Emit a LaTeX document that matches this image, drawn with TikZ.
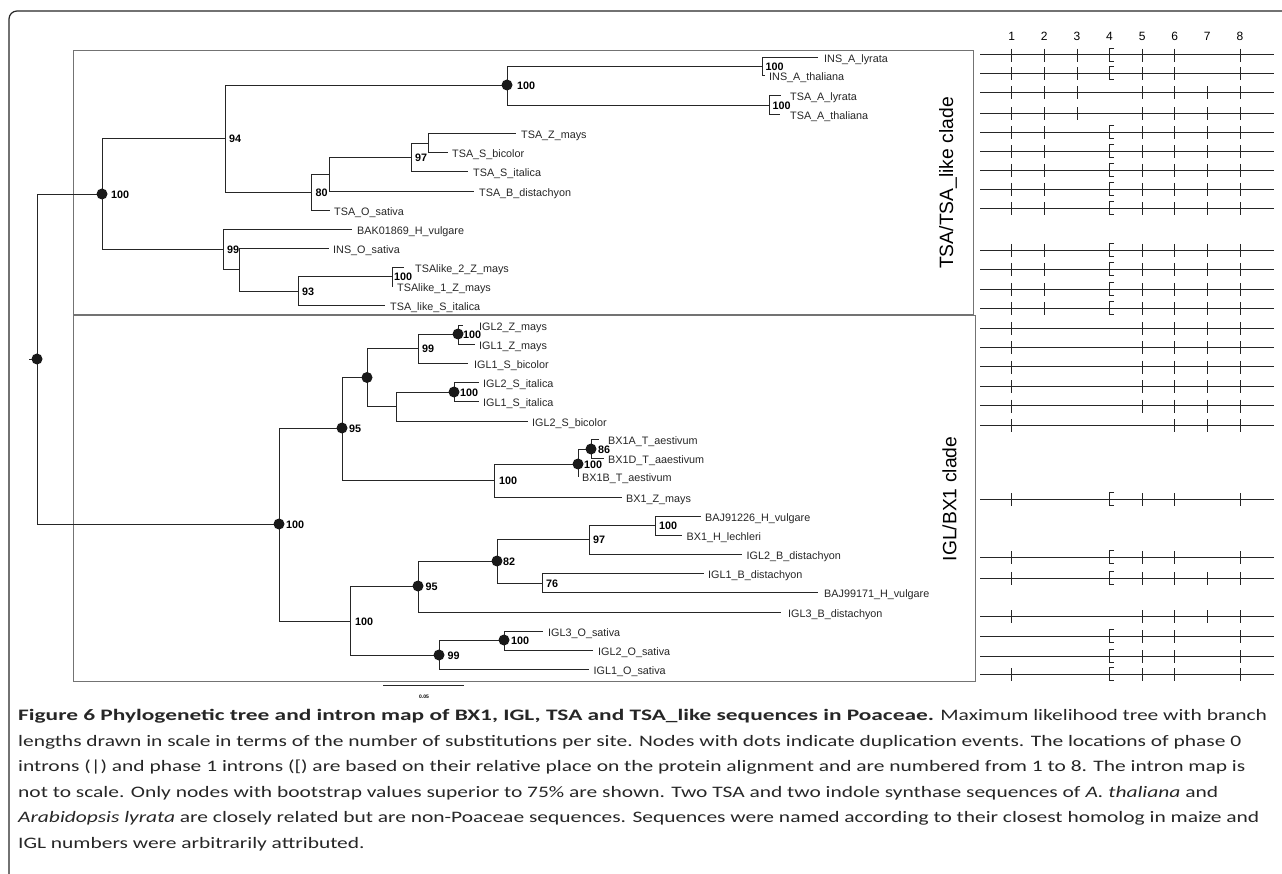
\documentclass[tikz,border=0pt]{standalone}
\usepackage{fontspec}
\setmainfont{Liberation Sans}
\newfontfamily\capfont[FakeStretch=1.34,BoldFeatures={FakeStretch=1.46}]{Carlito}
\usetikzlibrary{positioning}

\begin{document}
\begin{tikzpicture}[x=1pt,y=-1pt,
    branch/.style={draw=black!85,line width=0.9pt},
    taxon/.style={inner sep=0pt,text height=7.8pt,text depth=0pt,
      font=\fontsize{10.8}{12}\selectfont,text=black!85,yshift=-1.5pt},
    boot/.style={inner sep=0pt,text height=7.8pt,text depth=0pt,
      font=\bfseries\fontsize{10.8}{12}\selectfont,yshift=-1pt},
    clade/.style={rotate=90,inner sep=0pt,font=\fontsize{19.3}{20}\selectfont},
    cladebox/.style={draw=black!55,line width=0.9pt},
    intron/.style={draw=black!85,line width=0.8pt},
    colnum/.style={inner sep=0pt,font=\fontsize{12}{14}\selectfont},
    caption/.style={inner sep=0pt,align=left,text=black!85,
      font=\capfont\fontsize{16}{25.6}\selectfont},
    frame/.style={draw=black!85,line width=1.2pt,rounded corners=8pt}]
    \useasboundingbox (0,0) rectangle (1282,874);

    % FRAME AND CLADE BOXES
    \coordinate (FRAME_BL) at (9,874);
    \coordinate (FRAME_TL) at (9,11);
    \coordinate (FRAME_TR) at (1282,11);
    \draw[frame] (FRAME_BL) -- (FRAME_TL) -- (FRAME_TR);
    \draw[cladebox] (73,50) rectangle (973,314);
    \draw[cladebox] (73,315) rectangle (975,681);
    \node[clade] (TSA_CLADE) at (948,183) {TSA/TSA\_like clade};
    \node[clade] (IGL_CLADE) at (949.5,499) {IGL/BX1 clade};

    % INNER NODES
    \coordinate (ROOT_STUB) at (29,359);
    \coordinate (ROOT) at (37,359);
    \coordinate (NODE_A) at (102,194);
    \coordinate (NODE_B) at (225,138);
    \coordinate (NODE_C) at (507,85);
    \coordinate (NODE_D) at (762,66);
    \coordinate (NODE_E) at (769,105);
    \coordinate (NODE_F) at (311,192);
    \coordinate (NODE_G) at (329,174);
    \coordinate (NODE_H) at (411,157);
    \coordinate (NODE_I) at (428,143);
    \coordinate (NODE_J) at (223,249);
    \coordinate (NODE_K) at (239,269);
    \coordinate (NODE_L) at (298,291);
    \coordinate (NODE_M) at (392,276);
    \coordinate (NODE_N) at (279,524);
    \coordinate (NODE_O) at (342,428);
    \coordinate (NODE_P) at (367,377.5);
    \coordinate (NODE_Q) at (418,348);
    \coordinate (NODE_R) at (458,334);
    \coordinate (NODE_S) at (396,406);
    \coordinate (NODE_T) at (454,392);
    \coordinate (NODE_U) at (494,480);
    \coordinate (NODE_V) at (578,464);
    \coordinate (NODE_W) at (591,449);
    \coordinate (NODE_X) at (350,621);
    \coordinate (NODE_Y) at (418,586);
    \coordinate (NODE_Z) at (497,561);
    \coordinate (NODE_AA) at (589,539);
    \coordinate (NODE_AB) at (655,525);
    \coordinate (NODE_AC) at (542,583);
    \coordinate (NODE_AD) at (439,655);
    \coordinate (NODE_AE) at (504,640);

    % TSA LEAVES
    \coordinate (INS_A_LYRATA_TIP) at (818,57);
    \node[taxon,right=6pt of INS_A_LYRATA_TIP] (INS_A_LYRATA) {INS\_A\_lyrata};
    \coordinate (INS_A_THALIANA_TIP) at (765,75);
    \node[taxon,right=4pt of INS_A_THALIANA_TIP] (INS_A_THALIANA) {INS\_A\_thaliana};
    \coordinate (TSA_A_LYRATA_TIP) at (781,95);
    \node[taxon,right=9pt of TSA_A_LYRATA_TIP] (TSA_A_LYRATA) {TSA\_A\_lyrata};
    \coordinate (TSA_A_THALIANA_TIP) at (780,114);
    \node[taxon,right=10pt of TSA_A_THALIANA_TIP] (TSA_A_THALIANA) {TSA\_A\_thaliana};
    \coordinate (TSA_Z_MAYS_TIP) at (516,133);
    \node[taxon,right=5pt of TSA_Z_MAYS_TIP] (TSA_Z_MAYS) {TSA\_Z\_mays};
    \coordinate (TSA_S_BICOLOR_TIP) at (448,152);
    \node[taxon,right=4pt of TSA_S_BICOLOR_TIP] (TSA_S_BICOLOR) {TSA\_S\_bicolor};
    \coordinate (TSA_S_ITALICA_TIP) at (468,171);
    \node[taxon,right=5pt of TSA_S_ITALICA_TIP] (TSA_S_ITALICA) {TSA\_S\_italica};
    \coordinate (TSA_B_DISTACHYON_TIP) at (474,191);
    \node[taxon,right=5pt of TSA_B_DISTACHYON_TIP] (TSA_B_DISTACHYON) {TSA\_B\_distachyon};
    \coordinate (TSA_O_SATIVA_TIP) at (330,210);
    \node[taxon,right=4pt of TSA_O_SATIVA_TIP] (TSA_O_SATIVA) {TSA\_O\_sativa};
    \coordinate (BAK01869_TIP) at (352,229);
    \node[taxon,right=5pt of BAK01869_TIP] (BAK01869) {BAK01869\_H\_vulgare};
    \coordinate (INS_O_SATIVA_TIP) at (329,248);
    \node[taxon,right=4pt of INS_O_SATIVA_TIP] (INS_O_SATIVA) {INS\_O\_sativa};
    \coordinate (TSALIKE_2_TIP) at (404,267);
    \node[taxon,right=11pt of TSALIKE_2_TIP] (TSALIKE_2) {TSAlike\_2\_Z\_mays};
    \coordinate (TSALIKE_1_TIP) at (393,286);
    \node[taxon,right=4pt of TSALIKE_1_TIP] (TSALIKE_1) {TSAlike\_1\_Z\_mays};
    \coordinate (TSA_LIKE_S_ITALICA_TIP) at (385,305);
    \node[taxon,right=5pt of TSA_LIKE_S_ITALICA_TIP] (TSA_LIKE_S_ITALICA) {TSA\_like\_S\_italica};

    % IGL/BX1 LEAVES
    \coordinate (IGL2_Z_MAYS_TIP) at (463,325);
    \node[taxon,right=16pt of IGL2_Z_MAYS_TIP] (IGL2_Z_MAYS) {IGL2\_Z\_mays};
    \coordinate (IGL1_Z_MAYS_TIP) at (475,344);
    \node[taxon,right=4pt of IGL1_Z_MAYS_TIP] (IGL1_Z_MAYS) {IGL1\_Z\_mays};
    \coordinate (IGL1_S_BICOLOR_TIP) at (468,363);
    \node[taxon,right=6pt of IGL1_S_BICOLOR_TIP] (IGL1_S_BICOLOR) {IGL1\_S\_bicolor};
    \coordinate (IGL2_S_ITALICA_TIP) at (479,382);
    \node[taxon,right=4pt of IGL2_S_ITALICA_TIP] (IGL2_S_ITALICA) {IGL2\_S\_italica};
    \coordinate (IGL1_S_ITALICA_TIP) at (479,401);
    \node[taxon,right=4pt of IGL1_S_ITALICA_TIP] (IGL1_S_ITALICA) {IGL1\_S\_italica};
    \coordinate (IGL2_S_BICOLOR_TIP) at (528,421);
    \node[taxon,right=4pt of IGL2_S_BICOLOR_TIP] (IGL2_S_BICOLOR) {IGL2\_S\_bicolor};
    \coordinate (BX1A_TIP) at (599,439);
    \node[taxon,right=9pt of BX1A_TIP] (BX1A) {BX1A\_T\_aestivum};
    \coordinate (BX1D_TIP) at (604,458);
    \node[taxon,right=4pt of BX1D_TIP] (BX1D) {BX1D\_T\_aaestivum};
    \coordinate (BX1B_TIP) at (579,476);
    \node[taxon,right=3pt of BX1B_TIP] (BX1B) {BX1B\_T\_aestivum};
    \coordinate (BX1_Z_MAYS_TIP) at (622,497);
    \node[taxon,right=4pt of BX1_Z_MAYS_TIP] (BX1_Z_MAYS) {BX1\_Z\_mays};
    \coordinate (BAJ91226_TIP) at (701,516);
    \node[taxon,right=4pt of BAJ91226_TIP] (BAJ91226) {BAJ91226\_H\_vulgare};
    \coordinate (BX1_H_LECHLERI_TIP) at (682,535);
    \node[taxon,right=4.5pt of BX1_H_LECHLERI_TIP] (BX1_H_LECHLERI) {BX1\_H\_lechleri};
    \coordinate (IGL2_B_DIST_TIP) at (742,554);
    \node[taxon,right=4.5pt of IGL2_B_DIST_TIP] (IGL2_B_DIST) {IGL2\_B\_distachyon};
    \coordinate (IGL1_B_DIST_TIP) at (704,573);
    \node[taxon,right=4pt of IGL1_B_DIST_TIP] (IGL1_B_DIST) {IGL1\_B\_distachyon};
    \coordinate (BAJ99171_TIP) at (818,592);
    \node[taxon,right=6pt of BAJ99171_TIP] (BAJ99171) {BAJ99171\_H\_vulgare};
    \coordinate (IGL3_B_DIST_TIP) at (781,612);
    \node[taxon,right=7pt of IGL3_B_DIST_TIP] (IGL3_B_DIST) {IGL3\_B\_distachyon};
    \coordinate (IGL3_O_SATIVA_TIP) at (543,631);
    \node[taxon,right=5pt of IGL3_O_SATIVA_TIP] (IGL3_O_SATIVA) {IGL3\_O\_sativa};
    \coordinate (IGL2_O_SATIVA_TIP) at (593,650);
    \node[taxon,right=5pt of IGL2_O_SATIVA_TIP] (IGL2_O_SATIVA) {IGL2\_O\_sativa};
    \coordinate (IGL1_O_SATIVA_TIP) at (589,669);
    \node[taxon,right=4.5pt of IGL1_O_SATIVA_TIP] (IGL1_O_SATIVA) {IGL1\_O\_sativa};

    % BRANCHES
    \draw[branch]
      (ROOT_STUB) -- (ROOT)
      (ROOT) |- (NODE_A)  (ROOT) |- (NODE_N)
      (NODE_A) |- (NODE_B)  (NODE_A) |- (NODE_J)
      (NODE_B) |- (NODE_C)  (NODE_B) |- (NODE_F)
      (NODE_C) |- (NODE_D)  (NODE_C) |- (NODE_E)
      (NODE_D) |- (INS_A_LYRATA_TIP)  (NODE_D) |- (INS_A_THALIANA_TIP)
      (NODE_E) |- (TSA_A_LYRATA_TIP)  (NODE_E) |- (TSA_A_THALIANA_TIP)
      (NODE_F) |- (NODE_G)  (NODE_F) |- (TSA_O_SATIVA_TIP)
      (NODE_G) |- (NODE_H)  (NODE_G) |- (TSA_B_DISTACHYON_TIP)
      (NODE_H) |- (NODE_I)  (NODE_H) |- (TSA_S_ITALICA_TIP)
      (NODE_I) |- (TSA_Z_MAYS_TIP)  (NODE_I) |- (TSA_S_BICOLOR_TIP)
      (NODE_J) |- (BAK01869_TIP)  (NODE_J) |- (NODE_K)
      (NODE_K) |- (INS_O_SATIVA_TIP)  (NODE_K) |- (NODE_L)
      (NODE_L) |- (NODE_M)  (NODE_L) |- (TSA_LIKE_S_ITALICA_TIP)
      (NODE_M) |- (TSALIKE_2_TIP)  (NODE_M) |- (TSALIKE_1_TIP)
      (NODE_N) |- (NODE_O)  (NODE_N) |- (NODE_X)
      (NODE_O) |- (NODE_P)  (NODE_O) |- (NODE_U)
      (NODE_P) |- (NODE_Q)  (NODE_P) |- (NODE_S)
      (NODE_Q) |- (NODE_R)  (NODE_Q) |- (IGL1_S_BICOLOR_TIP)
      (NODE_R) |- (IGL2_Z_MAYS_TIP)  (NODE_R) |- (IGL1_Z_MAYS_TIP)
      (NODE_S) |- (NODE_T)  (NODE_S) |- (IGL2_S_BICOLOR_TIP)
      (NODE_T) |- (IGL2_S_ITALICA_TIP)  (NODE_T) |- (IGL1_S_ITALICA_TIP)
      (NODE_U) |- (NODE_V)  (NODE_U) |- (BX1_Z_MAYS_TIP)
      (NODE_V) |- (NODE_W)  (NODE_V) |- (BX1B_TIP)
      (NODE_W) |- (BX1A_TIP)  (NODE_W) |- (BX1D_TIP)
      (NODE_X) |- (NODE_Y)  (NODE_X) |- (NODE_AD)
      (NODE_Y) |- (NODE_Z)  (NODE_Y) |- (IGL3_B_DIST_TIP)
      (NODE_Z) |- (NODE_AA)  (NODE_Z) |- (NODE_AC)
      (NODE_AA) |- (NODE_AB)  (NODE_AA) |- (IGL2_B_DIST_TIP)
      (NODE_AB) |- (BAJ91226_TIP)  (NODE_AB) |- (BX1_H_LECHLERI_TIP)
      (NODE_AC) |- (IGL1_B_DIST_TIP)  (NODE_AC) |- (BAJ99171_TIP)
      (NODE_AD) |- (NODE_AE)  (NODE_AD) |- (IGL1_O_SATIVA_TIP)
      (NODE_AE) |- (IGL3_O_SATIVA_TIP)  (NODE_AE) |- (IGL2_O_SATIVA_TIP);

    % DUPLICATION DOTS
    \foreach \n in {ROOT,NODE_A,NODE_C,NODE_N,NODE_O,NODE_P,NODE_R,NODE_T,
        NODE_V,NODE_W,NODE_Y,NODE_Z,NODE_AD,NODE_AE}
      \fill[black!90] (\n) circle[radius=5.5pt];

    % BOOTSTRAP VALUES
    \node[boot,right=9pt of NODE_A] (BS_A) {100};
    \node[boot,right=4pt of NODE_B] (BS_B) {94};
    \node[boot,right=10pt of NODE_C] (BS_C) {100};
    \node[boot,right=3.5pt of NODE_D] (BS_D) {100};
    \node[boot,right=3.5pt of NODE_E] (BS_E) {100};
    \node[boot,right=4.5pt of NODE_F] (BS_F) {80};
    \node[boot,right=4pt of NODE_H] (BS_H) {97};
    \node[boot,right=4pt of NODE_J] (BS_J) {99};
    \node[boot,right=4pt of NODE_L] (BS_L) {93};
    \node[boot,right=2pt of NODE_M] (BS_M) {100};
    \node[boot,right=7pt of NODE_N] (BS_N) {100};
    \node[boot,right=7pt of NODE_O] (BS_O) {95};
    \node[boot,right=4pt of NODE_Q] (BS_Q) {99};
    \node[boot,right=5pt of NODE_R] (BS_R) {100};
    \node[boot,right=6pt of NODE_T] (BS_T) {100};
    \node[boot,right=5pt of NODE_U] (BS_U) {100};
    \node[boot,right=6pt of NODE_V] (BS_V) {100};
    \node[boot,right=7pt of NODE_W] (BS_W) {86};
    \node[boot,right=5pt of NODE_X] (BS_X) {100};
    \node[boot,right=7.5pt of NODE_Y] (BS_Y) {95};
    \node[boot,right=6pt of NODE_Z] (BS_Z) {82};
    \node[boot,right=4pt of NODE_AA] (BS_AA) {97};
    \node[boot,right=4pt of NODE_AB] (BS_AB) {100};
    \node[boot,right=4pt of NODE_AC] (BS_AC) {76};
    \node[boot,right=8.5pt of NODE_AD] (BS_AD) {99};
    \node[boot,right=7pt of NODE_AE] (BS_AE) {100};

    % SCALE BAR
    \coordinate (SCALE_L) at (383,685);
    \coordinate (SCALE_R) at (464,685);
    \draw[branch,line width=0.7pt] (SCALE_L) -- (SCALE_R);
    \node[inner sep=0pt,font=\bfseries\fontsize{5}{6}\selectfont] (SCALE_LBL) at (424,697) {0.05};

    % INTRON MAP
    \foreach \c in {1,...,8}
      \node[colnum] (COL_\c) at ({1011.7+(\c-1)*32.6},36) {\c};
    \foreach \y/\ph/\pb in {
        54.7/{1,2,3,5,6,8}/1, 73.3/{1,2,3,5,6,8}/1,
        92.3/{1,2,3,5,6,7,8}/0, 113.3/{1,2,3,5,6,7,8}/0,
        132.3/{1,2,5,6,7,8}/1, 151.3/{1,2,5,6,7,8}/1, 170/{1,2,5,6,7,8}/1,
        189/{1,2,5,6,7,8}/1, 208.3/{1,2,5,6,7,8}/1,
        250/{1,2,5,6,7,8}/1, 269.3/{1,2,5,6,7,8}/1, 289.3/{1,2,5,6,7,8}/1,
        308.3/{1,2,5,6,7,8}/1,
        328.3/{1,5,6,7,8}/0, 347.3/{1,5,6,7,8}/0, 366.7/{1,5,6,7,8}/0,
        386.3/{1,5,6,7,8}/0, 405.7/{1,5,6,7,8}/0, 425/{1,6,7,8}/0,
        499.3/{1,5,6,8}/1, 557.3/{1,5,6,8}/1, 578/{1,5,6,7,8}/1,
        616/{1,5,6,7,8}/0, 636/{5,6,8}/1, 656/{5,6,8}/1, 674/{1,5,6,8}/1} {
      \draw[intron] (980,\y) -- (1274,\y);
      \foreach \c in \ph
        \draw[intron] ({1011.7+(\c-1)*32.6},{\y-6}) -- ({1011.7+(\c-1)*32.6},{\y+7});
      \ifnum\pb=1
        \draw[intron] (1114,{\y-6.5}) -- (1109.5,{\y-6.5}) -- (1109.5,{\y+6.5}) -- (1114,{\y+6.5});
      \fi
    }

    % CAPTION
    \node[caption,anchor=north west] (CAPTION) at (18,709) {%
      {\bfseries Figure 6 Phylogenetic tree and intron map of BX1, IGL, TSA and TSA\_like sequences in Poaceae.} Maximum likelihood tree with branch\\
      lengths drawn in scale in terms of the number of substitutions per site. Nodes with dots indicate duplication events. The locations of phase 0\\
      introns (|) and phase 1 introns ([) are based on their relative place on the protein alignment and are numbered from 1 to 8. The intron map is\\
      not to scale. Only nodes with bootstrap values superior to 75\% are shown. Two TSA and two indole synthase sequences of {\itshape A. thaliana} and\\
      {\itshape Arabidopsis lyrata} are closely related but are non-Poaceae sequences. Sequences were named according to their closest homolog in maize and\\
      IGL numbers were arbitrarily attributed.};
\end{tikzpicture}
\end{document}
